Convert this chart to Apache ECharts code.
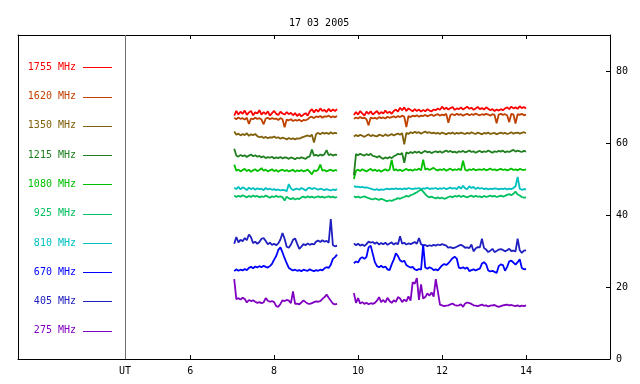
<!DOCTYPE html>
<html>
<head>
<meta charset="utf-8">
<script src="https://cdn.jsdelivr.net/npm/echarts@6/dist/echarts.min.js"></script>
<style>html,body{margin:0;padding:0;background:#fff}#c{width:640px;height:384px}</style>
</head>
<body>
<div id="c"></div>
<script>
const titleText = '17 03 2005';
const xTicks = [6, 8, 10, 12, 14];
const yTicks = [0, 20, 40, 60, 80];
const utPos = 4.45;
const gapTime = 9.7;
const freqs = ['1755 MHz','1620 MHz','1350 MHz','1215 MHz','1080 MHz','925 MHz','810 MHz','670 MHz','405 MHz','275 MHz'];
const colors = ['#ff0000','#c04000','#80600a','#208020','#00c000','#00c060','#00c0c0','#0000ff','#2020c0','#8000c0'];

const timesA = [7.05,7.1,7.15,7.2,7.25,7.3,7.35,7.4,7.45,7.5,
7.55,7.6,7.65,7.7,7.75,7.8,7.85,7.9,7.95,8,
8.05,8.1,8.15,8.2,8.25,8.3,8.35,8.4,8.45,8.5,
8.55,8.6,8.65,8.7,8.75,8.8,8.85,8.9,8.95,9,
9.05,9.1,9.15,9.2,9.25,9.3,9.35,9.4,9.45,9.5];
const timesB = [9.9,9.95,10,10.05,10.1,10.15,10.2,10.25,10.3,10.35,
10.4,10.45,10.5,10.55,10.6,10.65,10.7,10.75,10.8,10.85,
10.9,10.95,11,11.05,11.1,11.15,11.2,11.25,11.3,11.35,
11.4,11.45,11.5,11.55,11.6,11.65,11.7,11.75,11.8,11.85,
11.9,11.95,12,12.05,12.1,12.15,12.2,12.25,12.3,12.35,
12.4,12.45,12.5,12.55,12.6,12.65,12.7,12.75,12.8,12.85,
12.9,12.95,13,13.05,13.1,13.15,13.2,13.25,13.3,13.35,
13.4,13.45,13.5,13.55,13.6,13.65,13.7,13.75,13.8,13.85,
13.9,13.95,14];

const f1755A = [67.6,68.9,67.9,68.7,68.1,69.0,67.8,68.5,68.9,67.7,
68.5,68.2,69.1,67.9,68.6,68.0,68.8,67.6,68.3,68.9,
68.1,67.8,68.7,68.2,67.9,68.6,68.0,68.4,67.7,68.3,
67.5,68.1,67.4,67.9,68.3,67.6,68.8,69.4,68.5,69.3,
68.7,69.6,68.9,69.2,68.6,69.5,68.8,69.3,68.9,69.4];
const f1755B = [67.8,68.6,67.9,68.9,68.2,67.6,68.7,68.1,68.8,67.9,
68.4,68.9,68.0,68.6,68.2,69.0,68.3,68.7,68.1,68.9,
69.3,68.7,69.8,69.1,69.9,68.9,69.6,69.2,68.8,69.4,
68.9,69.3,68.7,69.2,68.8,69.4,69.0,68.8,69.3,69.1,
69.6,69.2,70.1,69.4,69.8,69.3,69.7,70.0,69.2,69.6,
69.4,69.9,69.3,69.7,70.1,69.5,69.8,69.2,69.6,70.0,
69.4,69.7,69.3,69.9,69.5,69.1,69.4,68.9,69.3,69.0,
69.4,69.1,69.6,69.9,69.4,70.1,69.6,69.9,69.5,70.2,
69.7,70.0,69.6];

const f1620A = [67.0,66.6,67.1,66.7,66.9,66.5,67.0,65.3,66.8,66.6,
67.0,66.7,66.9,66.5,65.2,66.8,67.0,66.6,66.9,66.7,
66.8,66.4,66.9,66.6,64.4,66.5,66.3,66.6,66.1,66.4,
66.2,66.5,66.0,66.4,66.3,66.6,67.1,67.3,66.9,67.4,
67.2,67.5,67.0,67.4,67.3,67.6,67.1,67.4,67.2,67.5];
const f1620B = [66.7,67.1,66.8,67.2,66.9,67.0,66.6,64.9,67.1,66.8,
67.0,66.7,67.2,66.9,67.1,66.8,67.3,67.0,67.2,67.4,
67.1,67.5,67.2,67.6,67.3,64.4,67.5,67.2,67.6,67.4,
67.7,67.3,67.6,67.5,67.8,67.4,67.7,67.9,67.5,67.8,
68.0,67.6,67.9,67.7,68.1,65.6,67.8,68.0,67.7,68.1,
67.8,68.0,67.6,67.9,68.1,67.7,68.0,67.8,68.2,67.9,
67.7,68.0,67.8,68.1,67.9,67.6,68.0,67.8,65.5,67.9,
68.1,67.8,68.0,67.7,65.8,68.1,67.9,65.4,68.0,67.8,
68.1,67.7,67.9];

const f1350A = [63.2,62.3,62.6,62.1,62.5,62.2,62.7,62.0,62.4,62.2,
62.5,61.9,61.6,61.8,61.4,61.7,61.3,61.6,61.5,61.8,
61.4,61.6,61.2,61.5,61.3,61.0,61.4,61.1,61.3,61.0,
61.3,61.2,61.5,61.7,61.9,62.1,61.8,62.3,60.1,62.5,
62.8,62.4,62.9,62.6,62.8,62.5,63.0,62.6,62.8,62.7];
const f1350B = [61.8,62.2,61.9,62.3,62.0,61.7,62.1,62.4,61.9,62.2,
62.0,61.8,62.3,62.1,61.9,62.4,62.0,62.2,62.5,62.1,
62.4,62.6,62.3,62.7,59.6,62.8,62.5,63.0,62.7,63.1,
62.8,63.0,62.6,62.9,63.2,62.8,63.0,62.7,62.9,62.6,
62.8,62.5,62.9,62.7,62.4,62.8,62.6,62.9,62.5,62.8,
62.6,62.9,62.7,62.5,62.8,62.6,63.0,62.7,62.5,62.9,
62.7,62.4,62.8,62.6,62.9,62.5,62.7,62.8,62.4,62.7,
62.9,62.6,62.8,62.5,62.7,63.0,62.6,62.8,62.9,62.6,
62.8,63.0,62.7];

const f1215A = [58.4,56.5,56.2,56.7,56.3,56.6,56.1,56.5,56.8,56.3,
56.6,56.2,56.4,56.0,56.3,55.8,56.1,55.9,56.2,55.7,
56.0,55.8,56.1,55.7,56.0,55.9,55.6,56.0,55.8,55.5,
55.9,55.7,56.0,55.8,55.6,56.1,56.3,58.2,56.5,56.7,
56.4,56.8,56.5,56.9,58.0,56.6,56.9,56.5,56.8,56.7];
const f1215B = [51.0,56.9,56.6,57.0,56.7,56.5,56.9,56.6,57.0,56.4,
56.3,56.0,56.4,55.9,55.6,56.0,55.7,56.1,55.8,56.3,
56.6,57.0,56.8,57.2,54.5,57.4,57.1,57.5,57.2,57.6,
57.3,57.6,57.1,57.5,57.8,57.4,57.6,57.2,57.5,57.7,
57.4,57.7,57.3,57.6,57.9,57.5,57.8,57.4,57.6,57.3,
57.7,57.5,57.8,57.4,57.6,57.9,57.5,57.7,57.3,57.6,
57.8,57.4,57.7,57.5,57.9,57.6,57.3,57.7,57.5,57.8,
57.6,57.9,57.4,57.7,57.5,57.8,58.1,57.6,57.9,57.7,
57.5,57.8,57.6];

const f1080A = [54.0,52.3,52.6,52.1,52.5,52.8,52.2,52.6,52.0,52.4,
52.7,52.2,52.5,53.0,52.3,52.6,52.1,52.4,52.7,52.2,
52.5,52.0,52.4,52.6,52.2,52.5,52.1,52.3,52.6,52.0,
52.4,52.2,52.5,52.1,52.3,52.6,52.0,51.3,52.4,52.2,
52.6,54.0,52.3,52.5,52.1,52.4,52.6,52.2,52.5,52.3];
const f1080B = [50.0,52.3,52.6,52.2,52.7,52.4,52.1,52.5,52.8,52.3,
52.6,52.2,52.5,52.0,52.4,52.7,52.3,52.6,55.3,52.4,
52.7,52.3,52.6,52.2,52.5,52.8,52.4,52.6,52.3,52.7,
52.5,52.9,52.4,55.4,52.6,52.9,52.5,52.8,53.1,52.6,
52.4,52.7,52.5,52.8,52.3,52.6,52.9,52.4,52.7,52.5,
52.8,52.4,55.1,52.6,52.3,52.7,52.5,52.8,52.4,52.6,
52.7,52.5,52.8,52.4,52.6,52.9,52.5,52.7,52.4,52.6,
52.8,52.5,52.7,52.4,52.6,52.9,52.5,52.7,52.4,52.8,
52.6,52.5,52.7];

const f925A = [45.4,45.0,45.3,45.1,45.5,45.2,44.9,45.3,45.0,45.4,
45.1,45.3,44.9,45.2,45.0,45.4,45.1,44.8,45.2,45.0,
45.3,45.0,45.2,44.9,44.0,45.1,44.6,44.4,44.7,44.3,
44.6,44.4,44.9,45.1,44.8,45.2,44.9,45.1,44.8,45.0,
45.2,44.9,45.1,44.8,45.0,45.2,44.9,45.1,44.8,45.0];
const f925B = [45.2,44.9,45.1,44.8,45.0,45.2,44.9,44.7,44.5,44.3,
44.6,44.4,44.2,44.5,44.3,44.0,43.8,44.1,43.9,44.2,
44.4,44.7,44.5,44.8,45.0,45.3,45.1,45.5,45.7,46.0,
46.3,46.7,47.1,46.5,45.8,45.2,44.9,45.1,44.8,44.6,
44.9,44.6,44.8,44.5,44.7,45.0,45.2,44.9,45.3,45.1,
45.4,45.0,45.3,45.1,44.9,45.2,45.4,45.0,45.3,45.1,
45.2,44.9,45.3,45.0,45.2,45.4,45.1,45.3,45.0,45.2,
45.4,45.1,45.3,45.6,45.8,45.5,45.9,46.5,45.7,45.4,
45.0,44.8,44.9];

const f810A = [47.6,47.2,47.8,47.1,47.7,47.4,46.9,47.6,47.2,47.5,
47.0,47.4,47.2,47.3,46.9,47.5,47.1,47.3,47.0,47.2,
46.9,47.1,46.8,47.0,46.9,46.6,48.6,47.4,46.9,47.2,
47.3,47.0,47.5,47.2,46.8,47.4,47.6,47.2,47.5,47.3,
47.0,47.3,47.1,46.9,47.2,47.0,46.8,47.1,46.9,47.2];
const f810B = [48.0,47.8,47.9,47.7,47.8,47.6,47.7,47.5,47.3,47.1,
47.0,47.2,46.9,47.1,47.0,47.2,47.3,47.1,47.3,47.2,
47.4,47.2,47.3,47.1,47.4,47.2,47.5,47.3,47.2,47.4,
47.3,47.5,47.2,47.4,47.3,47.6,47.2,47.4,47.3,47.5,
47.2,47.4,47.3,47.5,47.2,47.4,47.6,47.3,47.5,47.2,
47.9,47.3,48.1,47.4,47.2,48.0,47.5,47.8,47.2,47.6,
47.3,47.5,47.2,47.4,47.1,47.3,47.2,47.4,47.3,47.1,
47.3,47.2,47.4,47.1,47.3,47.2,47.5,48.0,50.6,47.3,
47.0,47.2,47.1];

const f670A = [24.4,24.9,24.5,24.8,24.6,25.0,24.7,25.3,25.6,25.2,
25.7,25.4,25.8,25.5,25.9,25.6,25.4,25.8,26.4,27.6,
28.6,30.3,31.0,29.6,28.0,26.6,25.3,24.9,24.6,24.8,
24.5,24.7,24.4,24.8,24.6,24.5,24.9,24.6,24.4,24.7,
24.5,24.8,24.6,25.2,25.5,25.3,26.2,27.8,28.3,29.0];
const f670B = [26.6,27.1,26.8,27.9,28.3,27.8,28.4,31.0,31.5,29.2,
26.9,25.8,25.5,25.9,25.4,25.7,24.9,24.7,26.3,27.6,
29.4,28.6,27.4,27.0,27.3,26.1,25.7,25.4,25.6,24.9,
24.7,25.0,24.8,31.8,25.4,25.1,25.5,25.2,24.7,24.9,
24.6,25.3,26.0,26.4,26.1,26.6,27.3,28.0,28.4,27.9,
25.4,25.2,25.5,25.1,25.4,24.4,24.7,24.9,24.6,24.9,
25.1,26.5,26.9,26.3,24.6,24.3,24.5,24.2,23.9,25.8,
26.3,26.1,24.5,25.6,27.1,27.3,26.8,26.2,26.9,27.7,
25.3,24.9,25.0];

const f405A = [32.0,33.9,32.4,33.1,32.7,33.6,33.0,34.6,33.8,32.2,
32.6,32.0,32.5,33.4,33.6,32.8,31.9,32.3,31.7,32.0,
31.6,32.1,33.2,35.0,33.4,31.2,30.9,31.8,33.1,33.5,
32.0,30.6,31.2,31.9,31.6,32.1,31.7,32.0,31.8,32.6,
32.9,32.5,33.0,32.6,32.8,32.3,38.9,31.6,31.3,31.5];
const f405B = [32.1,31.6,32.0,31.5,31.8,31.4,31.9,32.6,32.3,32.5,
32.0,32.4,31.8,32.2,31.9,32.3,31.7,32.1,32.4,31.8,
32.2,31.9,34.1,32.0,32.3,31.8,32.1,31.9,32.2,32.5,
32.0,33.6,31.9,31.5,31.7,31.3,31.6,31.4,31.7,31.5,
31.8,31.6,31.9,31.7,31.5,30.9,31.1,30.8,30.9,31.2,
31.5,31.7,31.4,30.9,31.0,30.8,31.8,29.9,30.7,31.1,
31.0,33.4,30.8,30.4,29.7,30.1,30.6,29.7,30.0,30.4,
30.5,30.3,29.9,30.2,30.6,30.0,30.1,29.9,33.4,30.2,
29.5,30.1,30.2];

const f275A = [22.2,16.6,16.9,16.5,17.0,16.7,15.7,16.4,16.1,16.3,
15.9,15.6,15.8,15.5,15.7,16.9,16.2,15.9,16.1,15.8,
14.7,14.5,15.3,16.3,16.1,16.4,16.2,15.5,18.8,15.3,
15.4,15.2,15.7,16.3,15.8,15.4,15.3,15.5,15.8,16.0,
15.9,16.1,16.7,17.2,17.9,17.0,16.2,15.4,15.2,15.3];
const f275B = [18.3,15.6,16.9,15.4,15.8,15.3,15.6,15.2,15.5,15.3,
15.6,16.2,17.2,15.8,16.4,15.7,17.0,16.1,15.6,16.3,
15.9,17.2,16.8,15.8,16.5,16.0,17.4,16.2,21.3,20.9,
22.5,16.4,20.7,16.8,17.2,18.2,17.6,18.5,17.3,22.2,
18.8,15.1,14.9,14.7,14.8,14.9,15.2,15.4,15.0,14.8,
14.9,15.2,14.5,15.4,15.7,15.5,15.3,14.9,14.8,14.7,
14.9,15.1,14.8,14.9,14.6,14.8,14.9,15.0,14.7,14.5,
14.7,14.9,15.0,15.1,14.9,15.0,14.8,14.7,14.9,14.6,
14.8,14.7,14.9];

const valuesA = [f1755A,f1620A,f1350A,f1215A,f1080A,f925A,f810A,f670A,f405A,f275A];
const valuesB = [f1755B,f1620B,f1350B,f1215B,f1080B,f925B,f810B,f670B,f405B,f275B];

function buildPoints(A, B) {
  const pts = timesA.map((t, i) => [t, A[i]]);
  pts.push([gapTime, '-']);
  timesB.forEach((t, j) => pts.push([t, B[j]]));
  return pts;
}

const FONT = 'DejaVu Sans Mono';
const chart = echarts.init(document.getElementById('c'), null, {renderer: 'canvas'});

const series = [];
for (let k = freqs.length - 1; k >= 0; k--) {
  series.push({
    name: freqs[k], type: 'line', xAxisIndex: 0, yAxisIndex: 0,
    data: buildPoints(valuesA[k], valuesB[k]),
    showSymbol: false, symbol: 'none', connectNulls: false,
    lineStyle: {color: colors[k], width: 1.8}, itemStyle: {color: colors[k]},
    silent: true, z: 3,
    markLine: k === 0 ? {
      silent: true, symbol: 'none', label: {show: false},
      lineStyle: {color: '#707070', width: 1, type: 'solid'},
      data: [{xAxis: utPos}]
    } : undefined
  });
}

const legendGraphics = [];
freqs.forEach((f, k) => {
  const yc = 67.3 + k * 29.27;
  legendGraphics.push({
    type: 'text', x: 76, y: yc,
    style: {text: f, fill: colors[k], font: '10px "' + FONT + '"', textAlign: 'right', textVerticalAlign: 'middle'}
  });
  legendGraphics.push({
    type: 'line', shape: {x1: 83, y1: Math.round(yc) + 0.5, x2: 112, y2: Math.round(yc) + 0.5},
    style: {stroke: colors[k], lineWidth: 1}
  });
});

chart.setOption({
  animation: false,
  backgroundColor: '#ffffff',
  title: {
    text: titleText, left: 284, top: 13,
    textStyle: {fontFamily: FONT, fontSize: 10, fontWeight: 'normal', color: '#000'}
  },
  grid: {left: 18, right: 30, top: 35, bottom: 25, containLabel: false, show: false},
  xAxis: [{
    type: 'value', position: 'bottom', min: 1.9, max: 16,
    axisLine: {show: true, onZero: false, lineStyle: {color: '#000', width: 1}},
    axisTick: {show: true, inside: true, length: 4, customValues: xTicks, lineStyle: {color: '#000'}},
    axisLabel: {show: true, margin: 7, customValues: [utPos].concat(xTicks),
      formatter: v => (v < 5 ? 'UT' : String(v)),
      fontFamily: FONT, fontSize: 10, color: '#000'},
    splitLine: {show: false}
  }, {
    type: 'value', position: 'top', min: 1.9, max: 16,
    axisLine: {show: true, onZero: false, lineStyle: {color: '#000', width: 1}},
    axisTick: {show: true, inside: true, length: 4, customValues: xTicks, lineStyle: {color: '#000'}},
    axisLabel: {show: false},
    splitLine: {show: false}
  }],
  yAxis: [{
    type: 'value', position: 'right', min: 0, max: 90,
    axisLine: {show: true, onZero: false, lineStyle: {color: '#000', width: 1}},
    axisTick: {show: true, inside: true, length: 4, customValues: yTicks, lineStyle: {color: '#000'}},
    axisLabel: {show: true, margin: 6, customValues: yTicks, fontFamily: FONT, fontSize: 10, color: '#000'},
    splitLine: {show: false}
  }, {
    type: 'value', position: 'left', min: 0, max: 90,
    axisLine: {show: true, onZero: false, lineStyle: {color: '#000', width: 1}},
    axisTick: {show: false}, axisLabel: {show: false}, splitLine: {show: false}
  }],
  legend: {show: false},
  graphic: legendGraphics,
  series: series
});
</script>
</body>
</html>
